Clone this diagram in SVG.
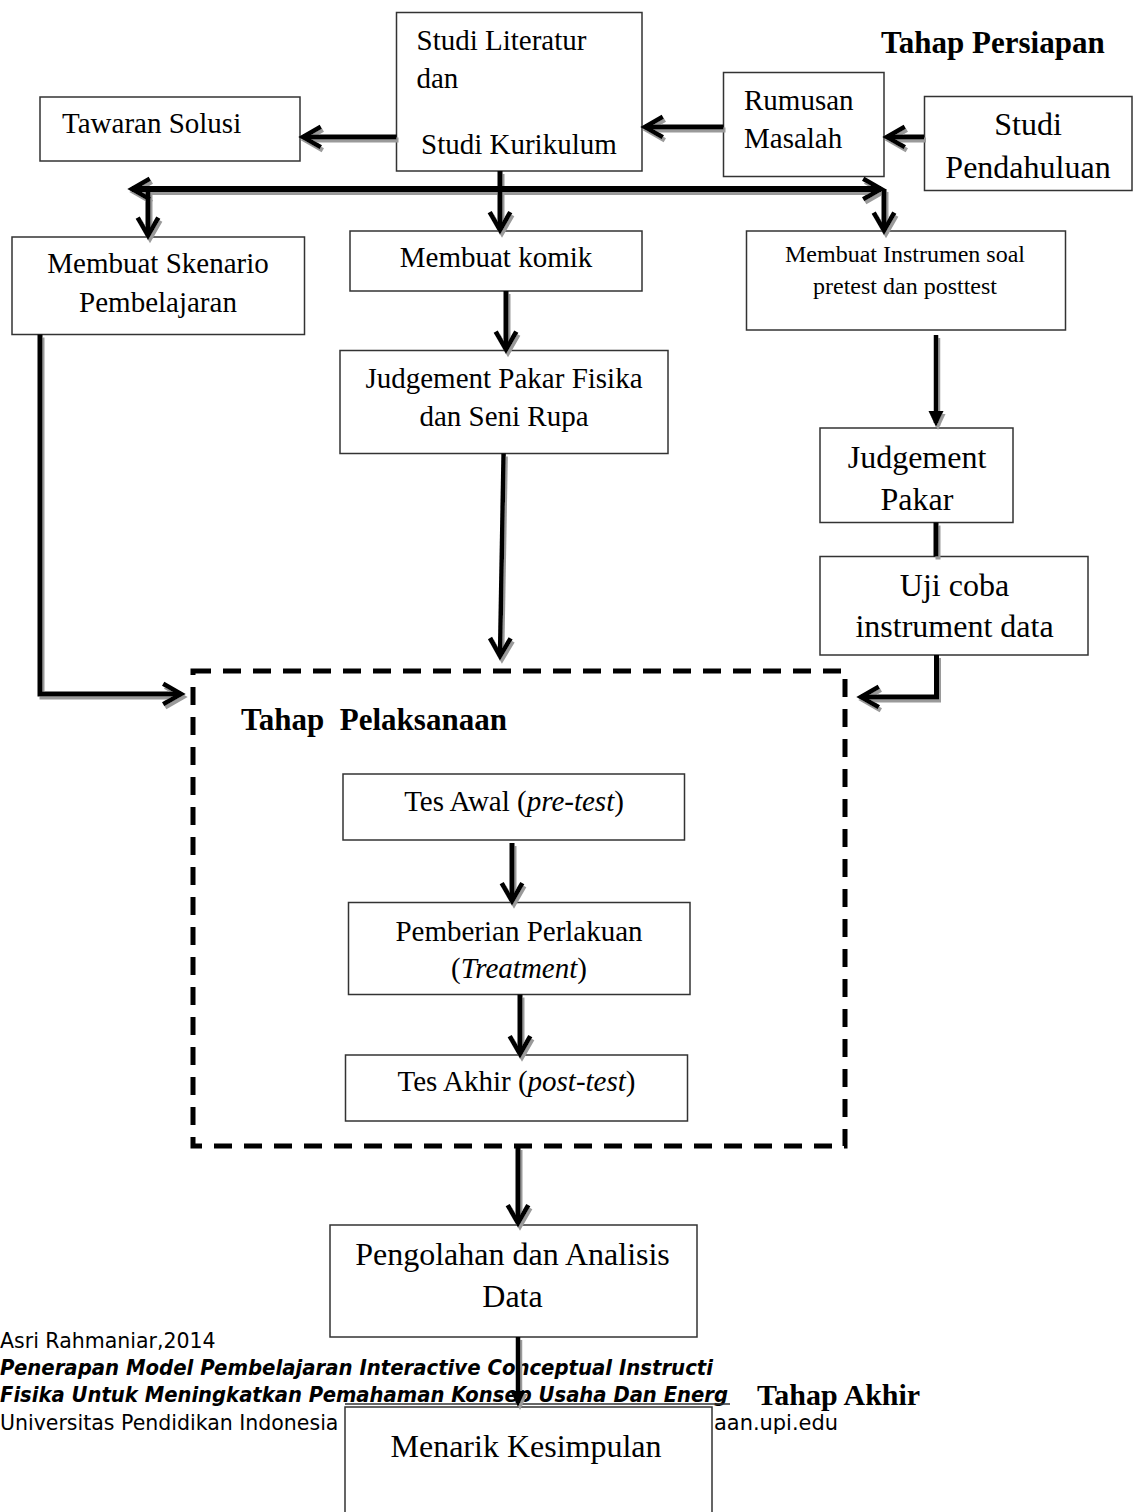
<svg xmlns="http://www.w3.org/2000/svg" width="1134" height="1512" viewBox="0 0 1134 1512">
<style>
.box{fill:#fff;stroke:#333;stroke-width:1.5}
.t{font-family:"Liberation Serif","Times New Roman",serif;fill:#000}
.t29{font-size:29px}
.t32{font-size:32px}
.t24{font-size:24px}
.hd{font-weight:bold;font-size:31px}
.mid{text-anchor:middle}
.ln{fill:none;stroke:#000;stroke-linejoin:miter}
.ft{font-family:"DejaVu Sans","Liberation Sans",sans-serif;font-size:20.5px;fill:#000}
.ftb{font-weight:bold;font-style:italic}
.dash{fill:none;stroke:#000;stroke-width:5;stroke-dasharray:18 12}
</style>
<defs>
<marker id="chev" markerUnits="userSpaceOnUse" markerWidth="30" markerHeight="30" refX="0" refY="0" orient="auto-start-reverse" viewBox="-24 -16 32 32" style="overflow:visible">
<path d="M-19,-11 L0,0 L-19,11" fill="none" stroke="#000" stroke-width="5" stroke-linejoin="miter"/>
</marker>
<marker id="tri" markerUnits="userSpaceOnUse" markerWidth="20" markerHeight="20" refX="0" refY="0" orient="auto" viewBox="-14 -9 20 18" style="overflow:visible">
<path d="M-12,-7.5 L4,0 L-12,7.5 Z" fill="#000"/>
</marker>
<filter id="shadow" filterUnits="userSpaceOnUse" x="0" y="0" width="1134" height="1512">
<feOffset in="SourceAlpha" dx="2" dy="3" result="off"/>
<feFlood flood-color="#9a9a9a" result="col"/>
<feComposite in="col" in2="off" operator="in" result="sh"/>
<feMerge><feMergeNode in="sh"/><feMergeNode in="SourceGraphic"/></feMerge>
</filter>
</defs>
<rect width="1134" height="1512" fill="#fff"/>

<g id="footer">
<text class="ft" x="0" y="1348">Asri Rahmaniar,2014</text>
<text class="ft ftb" x="0" y="1375" textLength="713" lengthAdjust="spacingAndGlyphs">Penerapan Model Pembelajaran Interactive Conceptual Instructi</text>
<text class="ft ftb" x="0" y="1402" textLength="728" lengthAdjust="spacingAndGlyphs">Fisika Untuk Meningkatkan Pemahaman Konsep Usaha Dan Energ</text>
<line x1="345" y1="1404" x2="730" y2="1404" stroke="#333" stroke-width="1.5"/>
<text class="ft" x="0" y="1430">Universitas Pendidikan Indonesia</text>
<text class="ft" x="714" y="1430" textLength="124" lengthAdjust="spacingAndGlyphs">aan.upi.edu</text>
</g>

<g id="label-persiapan"><text class="t hd" x="881" y="53">Tahap Persiapan</text></g>

<g id="studi-literatur">
<rect class="box" x="396.5" y="12.5" width="245.5" height="158.5"/>
<text class="t t29" x="416.5" y="50">Studi Literatur</text>
<text class="t t29" x="416.5" y="88">dan</text>
<text class="t t29" x="421" y="154">Studi Kurikulum</text>
</g>
<g id="rumusan-masalah">
<rect class="box" x="723.5" y="72.5" width="160.5" height="104"/>
<text class="t t29" x="744" y="110">Rumusan</text>
<text class="t t29" x="744" y="148">Masalah</text>
</g>
<g id="studi-pendahuluan">
<rect class="box" x="924.5" y="96.5" width="207.5" height="94"/>
<text class="t t32 mid" x="1028" y="135">Studi</text>
<text class="t t32 mid" x="1028" y="178">Pendahuluan</text>
</g>
<g id="tawaran-solusi">
<rect class="box" x="40" y="97" width="260" height="64"/>
<text class="t t29" x="62" y="133">Tawaran Solusi</text>
</g>
<g id="membuat-skenario">
<rect class="box" x="12" y="237" width="292.5" height="97.5"/>
<text class="t t29 mid" x="158" y="273">Membuat Skenario</text>
<text class="t t29 mid" x="158" y="311.5">Pembelajaran</text>
</g>
<g id="membuat-komik">
<rect class="box" x="350" y="231" width="292" height="60"/>
<text class="t t29 mid" x="496" y="267">Membuat komik</text>
</g>
<g id="membuat-instrumen">
<rect class="box" x="746.5" y="231" width="319" height="99"/>
<text class="t t24 mid" x="905" y="261.5">Membuat Instrumen soal</text>
<text class="t t24 mid" x="905" y="293.5">pretest dan posttest</text>
</g>
<g id="judgement-fisika">
<rect class="box" x="340" y="350.5" width="328" height="103"/>
<text class="t t29 mid" x="504" y="387.5">Judgement Pakar Fisika</text>
<text class="t t29 mid" x="504" y="426">dan Seni Rupa</text>
</g>
<g id="judgement-pakar">
<rect class="box" x="820" y="428" width="193" height="94.5"/>
<text class="t t32 mid" x="917" y="468">Judgement</text>
<text class="t t32 mid" x="917" y="510">Pakar</text>
</g>
<g id="uji-coba">
<rect class="box" x="820" y="556.5" width="268" height="98.5"/>
<text class="t t32 mid" x="954.5" y="596">Uji coba</text>
<text class="t t32 mid" x="954.5" y="636.5">instrument data</text>
</g>

<g id="tahap-pelaksanaan">
<rect class="dash" x="193" y="671" width="652" height="475"/>
<text class="t hd" x="241" y="730" style="white-space:pre">Tahap  Pelaksanaan</text>
</g>
<g id="tes-awal">
<rect class="box" x="343" y="774" width="341.5" height="66"/>
<text class="t t29 mid" x="514" y="811">Tes Awal (<tspan font-style="italic">pre-test</tspan>)</text>
</g>
<g id="pemberian-perlakuan">
<rect class="box" x="348.5" y="902.5" width="341.5" height="92"/>
<text class="t t29 mid" x="519" y="940.5">Pemberian Perlakuan</text>
<text class="t t29 mid" x="519" y="978">(<tspan font-style="italic">Treatment</tspan>)</text>
</g>
<g id="tes-akhir">
<rect class="box" x="345.5" y="1055" width="342" height="66"/>
<text class="t t29 mid" x="516.5" y="1091">Tes Akhir (<tspan font-style="italic">post-test</tspan>)</text>
</g>
<g id="pengolahan-data">
<rect class="box" x="330" y="1225" width="367" height="112"/>
<text class="t t32 mid" x="512.5" y="1265">Pengolahan dan Analisis</text>
<text class="t t32 mid" x="512.5" y="1306.5">Data</text>
</g>
<g id="menarik-kesimpulan">
<rect class="box" x="345" y="1407" width="367" height="130"/>
<text class="t t32 mid" x="526" y="1457">Menarik Kesimpulan</text>
</g>
<g id="label-akhir"><text class="t" x="757" y="1405" font-weight="bold" font-size="30">Tahap Akhir</text></g>

<g id="connectors" filter="url(#shadow)">
<path class="ln" stroke-width="5" d="M924,137 H887" marker-end="url(#chev)"/>
<path class="ln" stroke-width="5" d="M723.5,127 H645" marker-end="url(#chev)"/>
<path class="ln" stroke-width="5" d="M396.5,137 H303" marker-end="url(#chev)"/>
<path class="ln" stroke-width="6" d="M132,189 H881" marker-start="url(#chev)" marker-end="url(#chev)"/>
<path class="ln" stroke-width="5" d="M500,171 V230" marker-end="url(#chev)"/>
<path class="ln" stroke-width="5" d="M148,189 V235.5" marker-end="url(#chev)"/>
<path class="ln" stroke-width="5" d="M884,189 V230.5" marker-end="url(#chev)"/>
<path class="ln" stroke-width="5" d="M506,291 V349.5" marker-end="url(#chev)"/>
<path class="ln" stroke-width="4.5" d="M503.6,453.5 L500,656" marker-end="url(#chev)"/>
<path class="ln" stroke-width="4.5" d="M936,335 V423" marker-end="url(#tri)"/>
<path class="ln" stroke-width="5" d="M936,522.5 V556.5"/>
<path class="ln" stroke-width="5" d="M936.5,655 V697 H861" marker-end="url(#chev)"/>
<path class="ln" stroke-width="5" d="M40,334.5 V694 H181" marker-end="url(#chev)"/>
<path class="ln" stroke-width="5" d="M512,843 V901" marker-end="url(#chev)"/>
<path class="ln" stroke-width="5" d="M520,994.5 V1054" marker-end="url(#chev)"/>
<path class="ln" stroke-width="5" d="M518,1147 V1223" marker-end="url(#chev)"/>
<path class="ln" stroke-width="4.5" d="M518,1337 V1403" marker-end="url(#tri)"/>
</g>
</svg>
